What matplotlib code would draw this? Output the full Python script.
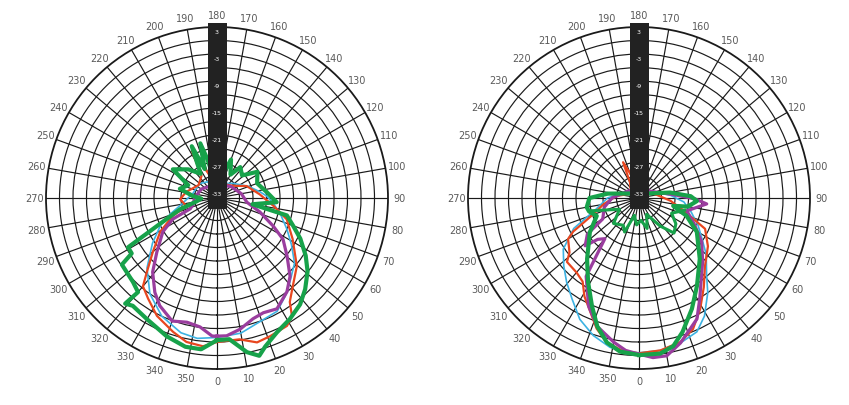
import numpy as np
import matplotlib
matplotlib.use("Agg")
import matplotlib.pyplot as plt
from matplotlib.patches import Rectangle
from matplotlib.transforms import offset_copy

# ---------------- data (angle in degrees, level in dB) ----------------
ring_labels = [3, -3, -9, -15, -21, -27, -33]
angle_ticks = list(range(0, 360, 10))

# Left pattern
L_green_ang = [0, 5, 11, 15, 18, 24, 31, 38, 44, 51, 57, 64, 70, 76, 80, 86, 97, 110, 123, 132, 143,
               150, 160, 166, 172, 188, 194, 197, 203, 206, 214, 225, 237, 246, 256, 265, 272, 279,
               287, 295, 299, 303, 305, 315, 320, 319, 322, 330, 340, 348, 354, 360]
L_green_db = [-3.4, -3.5, -0.1, 1.3, -0.3, -2.3, -3.6, -5.0, -6.8, -9.1, -11.5, -14.4, -17.0, -19.0,
              -27.0, -21.7, -23.9, -25.5, -24.3, -27.5, -26.4, -29.0, -25.9, -29.5, -31.0, -31.0,
              -26.0, -22.3, -28.0, -22.2, -28.5, -26.0, -23.3, -28.0, -26.5, -29.5, -31.5, -30.5,
              -26.4, -20.3, -12.4, -12.4, -9.2, -8.6, -7.7, -3.9, -4.6, -3.9, -2.3, -1.2, -1.2, -3.4]

L_red_ang = [0, 9, 15.5, 21, 28.7, 32.4, 35, 40.8, 49.6, 61.6, 73, 82, 95, 112, 127, 150, 175, 190,
             200, 208, 215, 235, 259, 272, 285, 292, 300.8, 310, 316.6, 320, 325.6, 333, 341.8, 348,
             354.6, 360]
L_red_db = [-3.0, -3.2, -1.7, -2.1, -2.6, -3.9, -6.8, -9.2, -11.7, -15.9, -18.8, -22.3, -25.5, -27.9,
            -30.5, -31.5, -32.0, -31.0, -29.0, -23.2, -29.0, -30.0, -28.0, -26.8, -28.0, -24.4, -20.3,
            -16.4, -12.3, -9.4, -7.9, -5.6, -3.7, -2.3, -1.9, -3.0]

L_cyan_ang = [0, 10, 19, 28, 35, 41, 50, 58, 66, 76, 85, 92, 98, 110, 130, 160, 200, 230, 260, 280,
              289, 296, 305, 315, 325, 335, 345, 352, 360]
L_cyan_db = [-4.0, -4.5, -5.9, -6.5, -8.5, -10.3, -12.5, -15.5, -18.0, -20.5, -22.5, -23.9, -25.3,
             -27.5, -30.0, -31.5, -31.0, -30.0, -29.5, -27.0, -24.0, -21.0, -17.5, -13.0, -9.0, -6.0,
             -4.0, -3.5, -4.0]

L_purple_ang = [0, 4, 10, 16.6, 22, 28.4, 36.7, 43, 50.4, 58, 63.4, 72, 82, 100, 130, 160, 200, 240,
                270, 285, 292, 295.5, 302, 312, 319, 326.6, 332, 340, 346.4, 352.5, 358, 360]
L_purple_db = [-4.3, -4.3, -5.4, -7.0, -7.5, -7.0, -9.0, -11.2, -14.8, -17.7, -21.0, -25.0, -28.3,
               -29.5, -31.0, -32.0, -32.0, -31.0, -30.0, -29.5, -28.6, -24.1, -20.8, -17.0, -13.2,
               -9.9, -7.9, -5.9, -6.6, -6.1, -4.3, -4.3]

# Right pattern
R_green_ang = [0, 7.7, 13, 18, 25.5, 33.4, 45, 59.6, 69.4, 77, 80, 87, 92, 100, 120, 180, 240, 262,
               270, 280, 285, 293, 304.8, 319.6, 328.7, 336.5, 342, 347.5, 353, 360]
R_green_db = [-0.1, -0.1, -1.2, -3.7, -7.7, -11.6, -15.9, -20.1, -23.7, -27.2, -24.0, -22.1, -23.5,
              -28.0, -33.0, -34.0, -33.0, -28.0, -24.0, -23.2, -23.5, -24.8, -21.7, -17.2, -13.2,
              -8.8, -5.0, -2.1, -0.6, -0.1]
R_green_in_ang = [285, 300, 315, 330, 337, 345, 355, 5, 15, 25, 37, 45, 55, 65, 75]
R_green_in_db = [-24.0, -30.0, -27.0, -28.0, -26.8, -31.0, -29.0, -30.0, -28.0, -31.0, -27.2, -24.0,
                 -25.0, -27.0, -24.5]

R_red_ang = [0, 8, 16, 22.4, 28.8, 36, 44, 55, 65, 67.5, 75, 85, 100, 140, 180, 198, 204, 210, 240,
             265, 280, 290, 297, 300, 308, 311.6, 320, 326, 331, 337, 342, 347.5, 354, 360]
R_red_db = [-0.5, -0.8, -1.7, -3.5, -6.8, -10.5, -13.9, -16.3, -18.8, -21.0, -25.0, -28.0, -31.0,
            -33.0, -33.0, -30.0, -26.3, -31.0, -33.0, -30.0, -27.0, -24.0, -18.6, -16.8, -15.4,
            -13.6, -13.4, -12.6, -10.0, -7.4, -4.5, -2.1, -0.8, -0.5]

R_cyan_ang = [0, 8, 16, 23.4, 29, 36, 41, 50, 57, 65, 75, 85, 95, 120, 180, 240, 270, 285, 295, 304,
              312, 319.4, 326.4, 334, 341.6, 349, 355, 360]
R_cyan_db = [-0.6, -0.8, -1.5, -2.6, -5.0, -9.0, -12.1, -15.5, -18.3, -20.5, -23.0, -25.0, -28.0,
             -32.0, -33.0, -32.0, -28.0, -25.0, -19.0, -14.7, -12.5, -10.3, -8.1, -5.0, -2.8, -1.2,
             -0.7, -0.6]

R_purple_ang = [0, 5, 10, 16, 25.6, 31, 38, 45, 55, 65, 75, 85, 89, 95, 120, 180, 240, 270, 285, 300,
                305, 311.6, 315, 320, 326, 335, 342, 350, 355, 360]
R_purple_db = [-0.3, 0.6, 0.6, -1.5, -5.2, -8.8, -12.5, -15.0, -18.0, -21.5, -24.0, -19.9, -22.5,
               -27.0, -32.0, -33.0, -32.0, -29.0, -27.0, -25.7, -21.0, -19.0, -22.0, -23.2, -14.0,
               -8.5, -5.0, -2.5, -1.0, -0.3]

# ---------------- style ----------------
C_GREEN = "#17a24a"
C_RED = "#e8461f"
C_CYAN = "#3cb2e2"
C_PURPLE = "#9a3d9e"
RMIN, RMAX = -35, 3

fig = plt.figure(figsize=(8.49, 4.06), dpi=100)
fig.patch.set_facecolor("white")

W = 342 / 849
H = 342 / 406
B = (406 - 199 - 171) / 406
axes = [fig.add_axes([(217 - 171) / 849, B, W, H], projection="polar"),
        fig.add_axes([(639 - 171) / 849, B, W, H], projection="polar")]


def setup(ax):
    ax.set_theta_zero_location("S")
    ax.set_theta_direction(1)
    ax.set_rlim(RMIN, RMAX)
    ax.set_rticks(np.arange(-33, 3, 3))
    ax.set_yticklabels([])
    ax.set_thetagrids(angle_ticks, [str(a) for a in angle_ticks])
    ax.tick_params(axis="x", pad=-2, labelsize=7, labelcolor="#5a5a5a")
    ax.grid(True, color="#1a1a1a", linewidth=0.85)
    ax.spines["polar"].set_linewidth(1.3)
    ax.spines["polar"].set_color("#1a1a1a")
    # black scale bar
    bw = 19 / 342
    ax.add_patch(Rectangle((0.5 - bw / 2, 0.5 - 11 / 342), bw, 0.5 + 15 / 342,
                           transform=ax.transAxes, facecolor="#222222", edgecolor="none",
                           zorder=10, clip_on=False))
    tr = offset_copy(ax.transData, fig=fig, x=0, y=-3, units="points")
    for v in ring_labels:
        ax.text(np.pi, v, str(v), transform=tr, color="white", fontsize=4.5,
                ha="center", va="center", zorder=11, clip_on=False)


def trace(ax, ang, db, color, lw, z):
    ax.plot(np.deg2rad(ang), db, color=color, linewidth=lw, zorder=z, solid_joinstyle="round")


for ax in axes:
    setup(ax)

a1, a2 = axes
trace(a1, L_cyan_ang, L_cyan_db, C_CYAN, 1.2, 3)
trace(a1, L_red_ang, L_red_db, C_RED, 1.6, 4)
trace(a1, L_purple_ang, L_purple_db, C_PURPLE, 2.3, 5)
trace(a1, L_green_ang, L_green_db, C_GREEN, 3.0, 6)

trace(a2, R_cyan_ang, R_cyan_db, C_CYAN, 1.2, 3)
trace(a2, R_red_ang, R_red_db, C_RED, 1.6, 4)
trace(a2, R_purple_ang, R_purple_db, C_PURPLE, 2.3, 5)
trace(a2, R_green_ang, R_green_db, C_GREEN, 3.0, 6)
trace(a2, R_green_in_ang, R_green_in_db, C_GREEN, 2.2, 6)

fig.savefig("out.png", dpi=100, facecolor="white")
